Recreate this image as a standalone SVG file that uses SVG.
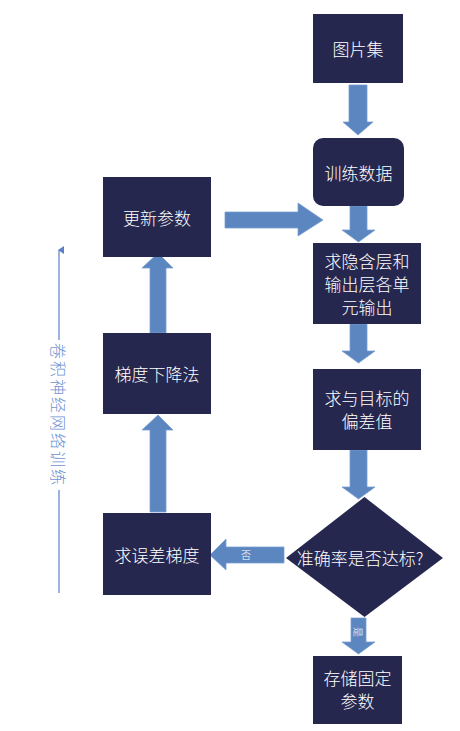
<svg xmlns="http://www.w3.org/2000/svg" width="460" height="731" viewBox="0 0 460 731">
<defs>
<style>
.box{fill:#26274F}
.arr{fill:#5B86C0;stroke:#7A9FD2;stroke-width:0.8}
.t{font-family:"Noto Sans CJK SC","Noto Sans",sans-serif;font-size:17px;font-weight:300;fill:#ffffff;text-anchor:middle;dominant-baseline:central}
.s{font-family:"Noto Sans CJK SC","Noto Sans",sans-serif;font-size:10px;font-weight:300;fill:#ffffff;text-anchor:middle;dominant-baseline:central}
.side{font-family:"Noto Sans CJK SC","Noto Sans",sans-serif;font-size:16px;font-weight:300;fill:#6F92D2;text-anchor:middle;dominant-baseline:central}
</style>
<marker id="up" markerWidth="8" markerHeight="8" refX="4" refY="1" orient="auto-start-reverse" markerUnits="userSpaceOnUse" viewBox="0 0 8 8">
<path d="M0,6 L4,0 L8,6 Z" fill="#5B7FC6"/>
</marker>
</defs>
<g id="connectors">
<polygon class="arr" points="349,85 367,85 367,122 373,122 358,135 343,122 349,122"/>
<polygon class="arr" points="350,206 367,206 367,230 375,230 358.5,242 342,230 350,230"/>
<polygon class="arr" points="350,324 367,324 367,351 375,351 358.5,363 342,351 350,351"/>
<polygon class="arr" points="350,450 367,450 367,487 375,487 358.5,499 342,487 350,487"/>
<polygon class="arr" points="351,618 366,618 366,642 375,642 358.5,654 342,642 351,642"/>
<text class="s" transform="translate(358.5,632) rotate(90)">是</text>
<polygon class="arr" points="284,547 284,563 226,563 226,570 210,555 226,539 226,547"/>
<text class="s" x="246" y="554">否</text>
<polygon class="arr" points="225,212 298,212 298,203 323,220 298,236 298,228 225,228"/>
<polygon class="arr" points="150,333 166,333 166,268 173,268 158,253 142,268 150,268"/>
<polygon class="arr" points="150,512 166,512 166,430 173,430 158,415 142,430 150,430"/>
</g>
<g id="side-label">
<line x1="59" y1="593" x2="59" y2="490" stroke="#5B7FC6" stroke-width="1.2"/>
<line x1="59" y1="340" x2="59" y2="250" stroke="#5B7FC6" stroke-width="1.2" marker-end="url(#up)"/>
<text class="side" transform="translate(59,415) rotate(90)" letter-spacing="2">卷积神经网络训练</text>
</g>
<g id="n1"><rect class="box" x="313" y="14" width="90" height="69"/><text class="t" x="358" y="48">图片集</text></g>
<g id="n2"><rect class="box" x="313" y="138" width="91" height="68" rx="10"/><text class="t" x="358.5" y="172">训练数据</text></g>
<g id="n3"><rect class="box" x="313" y="243" width="108" height="81"/><text class="t" x="367" y="260">求隐含层和</text><text class="t" x="367" y="283">输出层各单</text><text class="t" x="367" y="306">元输出</text></g>
<g id="n4"><rect class="box" x="313" y="369" width="108" height="81"/><text class="t" x="367" y="397">求与目标的</text><text class="t" x="367" y="420">偏差值</text></g>
<g id="n5"><polygon class="box" points="364.5,497 443,558 364.5,617 286,558"/><text class="t" x="360" y="557">准确率是否达标?</text></g>
<g id="n6"><rect class="box" x="313" y="656" width="89" height="68"/><text class="t" x="357.5" y="677">存储固定</text><text class="t" x="357.5" y="700">参数</text></g>
<g id="n7"><rect class="box" x="103" y="177" width="108" height="80"/><text class="t" x="157" y="217">更新参数</text></g>
<g id="n8"><rect class="box" x="103" y="333" width="108" height="81"/><text class="t" x="157" y="373">梯度下降法</text></g>
<g id="n9"><rect class="box" x="103" y="513" width="108" height="82"/><text class="t" x="157" y="554">求误差梯度</text></g>
</svg>
